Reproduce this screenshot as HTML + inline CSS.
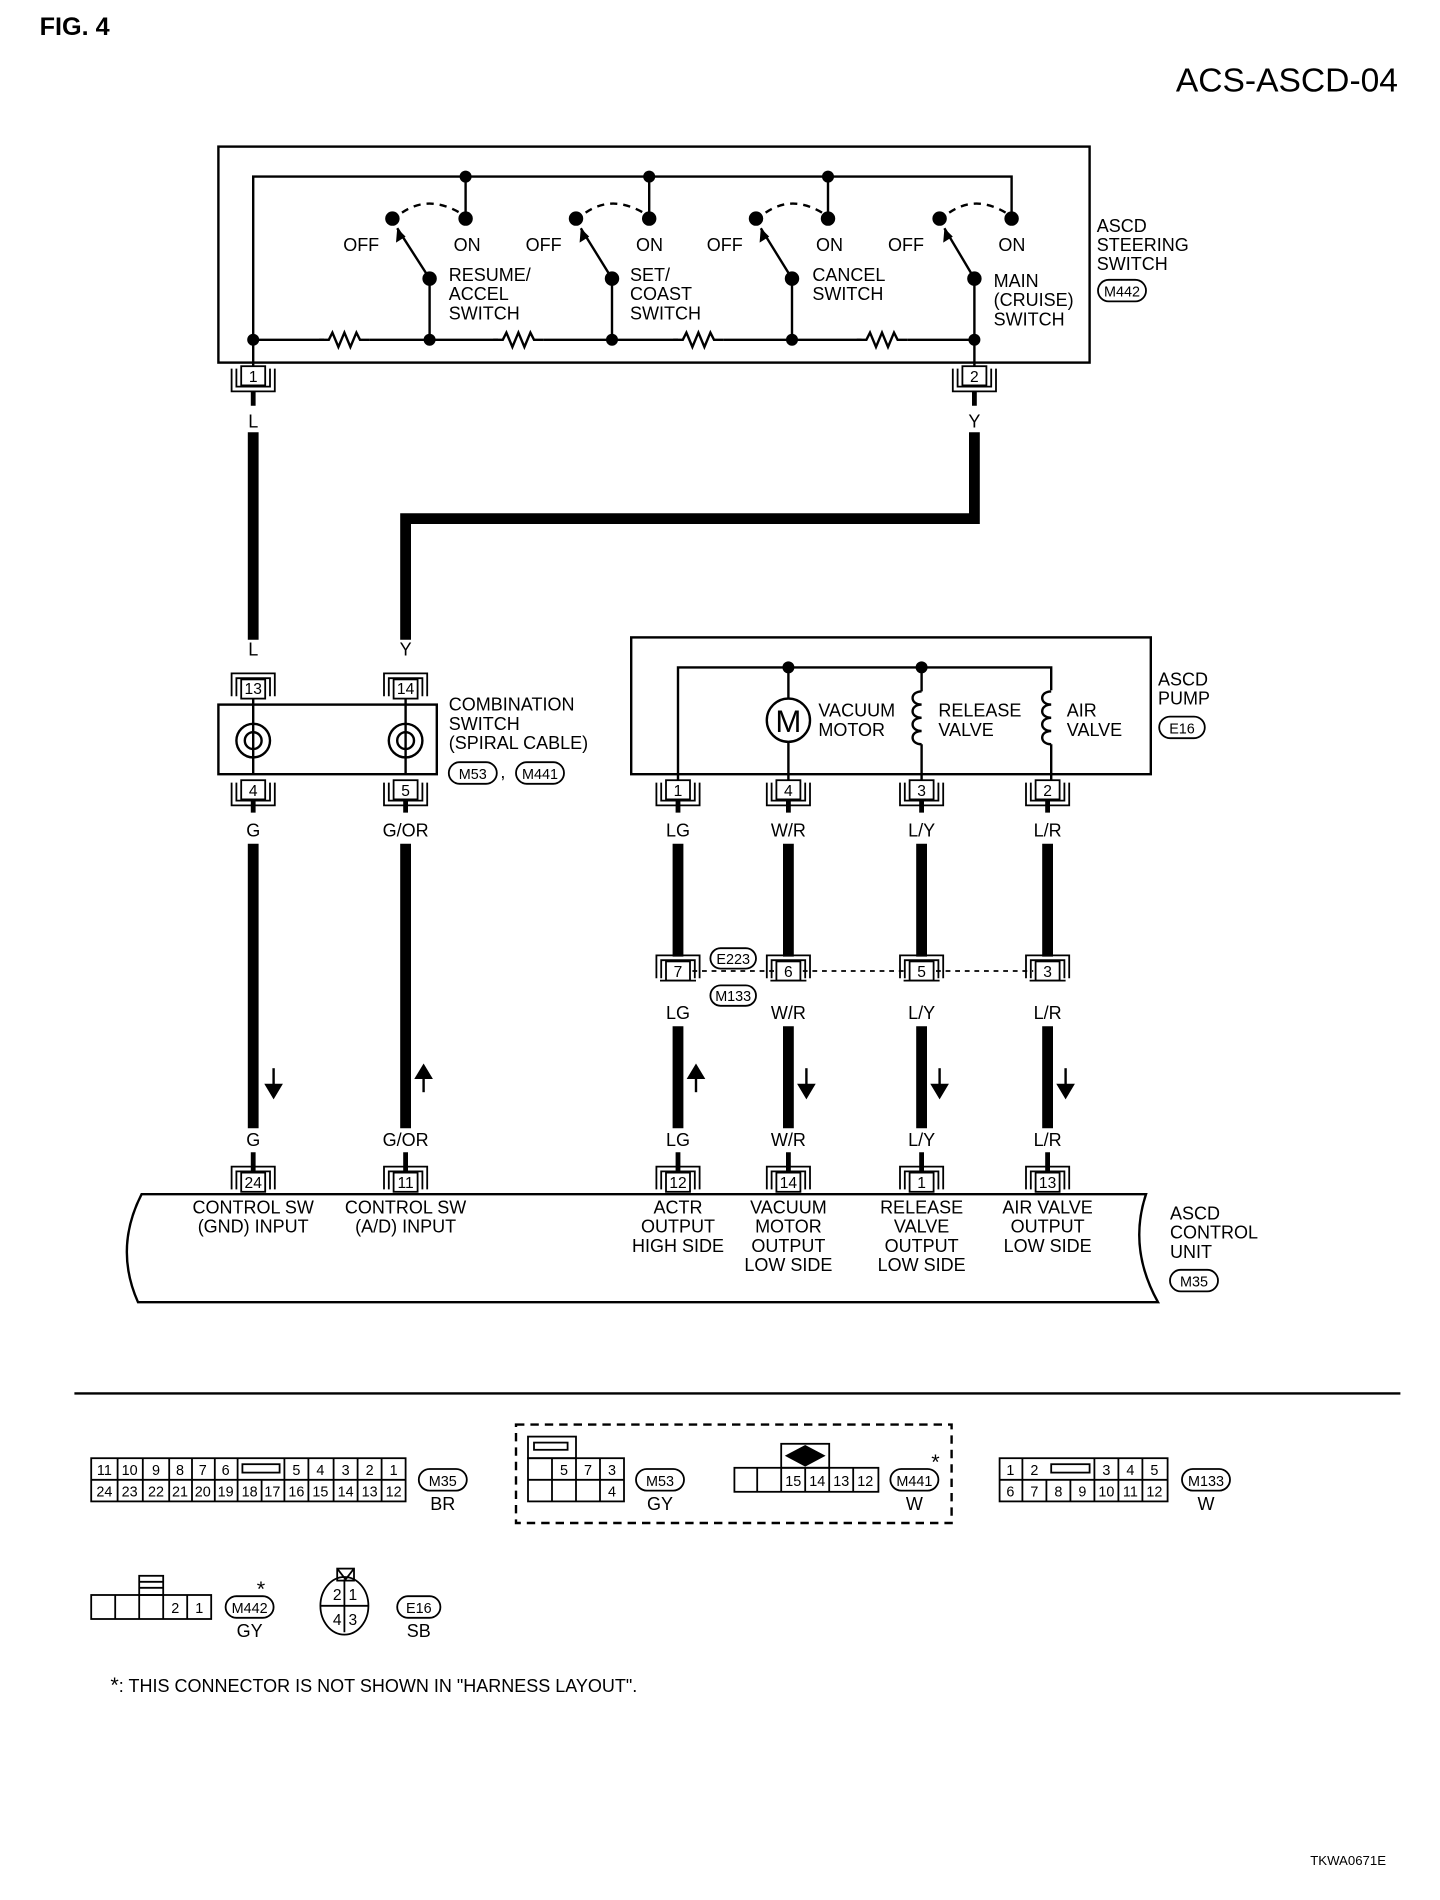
<!DOCTYPE html>
<html><head><meta charset="utf-8"><style>
html,body{margin:0;padding:0;background:#fff;}
svg{display:block;}
text{font-family:"Liberation Sans",Arial,sans-serif;fill:#000;}
.l{font-size:15px;}
.n{font-size:13px;text-anchor:middle;}
.c{text-anchor:middle;}
</style></head><body>
<svg width="1440" height="1900" viewBox="0 0 1200 1583" xmlns="http://www.w3.org/2000/svg">
<defs>
<g id="cn"><rect x="-10" y="0" width="20" height="16" fill="#fff" stroke="#000" stroke-width="1.5"/><path d="M-18 2V21H18V2M-14 2V17H14V2" fill="none" stroke="#000" stroke-width="1.5"/></g>
<g id="cu"><rect x="-10" y="0" width="20" height="16" fill="#fff" stroke="#000" stroke-width="1.5"/><path d="M-18 14V-5H18V14M-14 14V-1H14V14" fill="none" stroke="#000" stroke-width="1.5"/></g>
<path id="res" d="M0 0h8l3 -6 5 12 5 -12 5 12 5 -12 3 6h8"/>
</defs>
<text x="33" y="29" style="font-size:21px;font-weight:bold">FIG. 4</text>
<text x="1165" y="76" style="font-size:28px;text-anchor:end">ACS-ASCD-04</text>

<!-- steering switch -->
<rect x="182" y="122" width="726" height="180" fill="none" stroke="#000" stroke-width="2"/>
<g stroke="#000" stroke-width="2" fill="none">
<path d="M211 305V147H843V182"/>
<path d="M211 283H270M308 283H415M453 283H565M603 283H718M756 283H812V305"/>
<use href="#res" x="266" y="283"/><use href="#res" x="411" y="283"/><use href="#res" x="561" y="283"/><use href="#res" x="714" y="283"/>
<path d="M388 147V182M541 147V182M690 147V182"/>
<path d="M358 232V283M510 232V283M660 232V283M812 232V283"/>
<path d="M358 232L331 190M510 232L484 190M660 232L634 190M812 232L787 190"/>
<path stroke-dasharray="6 5" d="M335 177Q357 162 383 177M488 177Q510 162 536 177M638 177Q660 162 685 177M791 177Q813 162 838 177"/>
</g>
<g fill="#000">
<circle cx="211" cy="283" r="5"/><circle cx="358" cy="283" r="5"/><circle cx="510" cy="283" r="5"/><circle cx="660" cy="283" r="5"/><circle cx="812" cy="283" r="5"/>
<circle cx="388" cy="147" r="5"/><circle cx="541" cy="147" r="5"/><circle cx="690" cy="147" r="5"/>
<circle cx="358" cy="232" r="6"/><circle cx="510" cy="232" r="6"/><circle cx="660" cy="232" r="6"/><circle cx="812" cy="232" r="6"/>
<circle cx="327" cy="182" r="6"/><circle cx="480" cy="182" r="6"/><circle cx="630" cy="182" r="6"/><circle cx="783" cy="182" r="6"/>
<circle cx="388" cy="182" r="6"/><circle cx="541" cy="182" r="6"/><circle cx="690" cy="182" r="6"/><circle cx="843" cy="182" r="6"/>
<path d="M331 190l-1 12 8-5zM484 190l-1 12 8-5zM634 190l-1 12 8-5zM787 190l-1 12 8-5z"/>
</g>
<g class="l">
<text x="286" y="209">OFF</text><text x="378" y="209">ON</text>
<text x="438" y="209">OFF</text><text x="530" y="209">ON</text>
<text x="589" y="209">OFF</text><text x="680" y="209">ON</text>
<text x="740" y="209">OFF</text><text x="832" y="209">ON</text>
<text x="374" y="234">RESUME/</text><text x="374" y="250">ACCEL</text><text x="374" y="266">SWITCH</text>
<text x="525" y="234">SET/</text><text x="525" y="250">COAST</text><text x="525" y="266">SWITCH</text>
<text x="677" y="234">CANCEL</text><text x="677" y="250">SWITCH</text>
<text x="828" y="239">MAIN</text><text x="828" y="255">(CRUISE)</text><text x="828" y="271">SWITCH</text>
<text x="914" y="193">ASCD</text><text x="914" y="209">STEERING</text><text x="914" y="225">SWITCH</text>
</g>
<rect x="915" y="233" width="40" height="18" rx="9" fill="none" stroke="#000" stroke-width="1.5"/><text x="935" y="247" class="n" style="font-size:12px">M442</text>

<use href="#cn" x="211" y="305"/><text x="211" y="318" class="n">1</text>
<use href="#cn" x="812" y="305"/><text x="812" y="318" class="n">2</text>

<!-- wires -->
<g stroke="#000" stroke-width="9" fill="none">
<path d="M211 360V533"/>
<path d="M812 360V432H338V533"/>
<path d="M211 703V940M338 703V940"/>
<path d="M565 703V797M657 703V797M768 703V797M873 703V797"/>
<path d="M565 855V940M657 855V940M768 855V940M873 855V940"/>
</g>
<g stroke="#000" stroke-width="4"><path d="M211 326V338M812 326V338M211 660V677M338 660V677M565 660V677M657 660V677M768 660V677M873 660V677"/></g>
<g class="l c">
<text x="211" y="356">L</text><text x="812" y="356">Y</text>
<text x="211" y="546">L</text><text x="338" y="546">Y</text>
<text x="211" y="697">G</text><text x="338" y="697">G/OR</text>
<text x="565" y="697">LG</text><text x="657" y="697">W/R</text><text x="768" y="697">L/Y</text><text x="873" y="697">L/R</text>
<text x="565" y="849">LG</text><text x="657" y="849">W/R</text><text x="768" y="849">L/Y</text><text x="873" y="849">L/R</text>
<text x="211" y="955">G</text><text x="338" y="955">G/OR</text>
<text x="565" y="955">LG</text><text x="657" y="955">W/R</text><text x="768" y="955">L/Y</text><text x="873" y="955">L/R</text>
</g>

<!-- combination switch -->
<use href="#cu" x="211" y="566"/><text x="211" y="578" class="n">13</text>
<use href="#cu" x="338" y="566"/><text x="338" y="578" class="n">14</text>
<rect x="182" y="587" width="182" height="58" fill="#fff" stroke="#000" stroke-width="2"/>
<g fill="none" stroke="#000" stroke-width="2">
<path d="M211 582V645M338 582V645"/>
<circle cx="211" cy="617" r="14"/><circle cx="211" cy="617" r="7"/>
<circle cx="338" cy="617" r="14"/><circle cx="338" cy="617" r="7"/>
</g>
<use href="#cn" x="211" y="650"/><text x="211" y="663" class="n">4</text>
<use href="#cn" x="338" y="650"/><text x="338" y="663" class="n">5</text>
<g class="l"><text x="374" y="592">COMBINATION</text><text x="374" y="608">SWITCH</text><text x="374" y="624">(SPIRAL CABLE)</text><text x="417" y="648">,</text></g>
<rect x="374" y="635" width="40" height="18" rx="9" fill="none" stroke="#000" stroke-width="1.5"/><text x="394" y="649" class="n" style="font-size:12px">M53</text>
<rect x="430" y="635" width="40" height="18" rx="9" fill="none" stroke="#000" stroke-width="1.5"/><text x="450" y="649" class="n" style="font-size:12px">M441</text>

<!-- pump -->
<rect x="526" y="531" width="433" height="114" fill="none" stroke="#000" stroke-width="2"/>
<g fill="none" stroke="#000" stroke-width="2">
<path d="M565 650V556H876V575M657 556V582M657 618V650M768 556V576M768 620V650M876 620V650"/>
<circle cx="657" cy="600" r="18"/>
<path d="M768 576c-10 0-10 11 0 11c-10 0-10 11 0 11c-10 0-10 11 0 11c-10 0-10 11 0 11"/>
<path d="M876 576c-10 0-10 11 0 11c-10 0-10 11 0 11c-10 0-10 11 0 11c-10 0-10 11 0 11"/>
</g>
<text x="657" y="610" class="c" style="font-size:26px">M</text>
<circle cx="657" cy="556" r="5"/><circle cx="768" cy="556" r="5"/>
<g class="l"><text x="682" y="597">VACUUM</text><text x="682" y="613">MOTOR</text>
<text x="782" y="597">RELEASE</text><text x="782" y="613">VALVE</text>
<text x="889" y="597">AIR</text><text x="889" y="613">VALVE</text>
<text x="965" y="571">ASCD</text><text x="965" y="587">PUMP</text></g>
<rect x="966" y="597" width="38" height="18" rx="9" fill="none" stroke="#000" stroke-width="1.5"/><text x="985" y="611" class="n" style="font-size:12px">E16</text>
<use href="#cn" x="565" y="650"/><text x="565" y="663" class="n">1</text>
<use href="#cn" x="657" y="650"/><text x="657" y="663" class="n">4</text>
<use href="#cn" x="768" y="650"/><text x="768" y="663" class="n">3</text>
<use href="#cn" x="873" y="650"/><text x="873" y="663" class="n">2</text>

<!-- mid connectors -->
<path d="M577 809H645M669 809H756M780 809H861" stroke="#000" stroke-width="1.5" stroke-dasharray="4 4"/>
<g>
<use href="#cu" x="565" y="801"/><text x="565" y="814" class="n">7</text>
<use href="#cu" x="657" y="801"/><text x="657" y="814" class="n">6</text>
<use href="#cu" x="768" y="801"/><text x="768" y="814" class="n">5</text>
<use href="#cu" x="873" y="801"/><text x="873" y="814" class="n">3</text>
<path d="M550 817H580M642 817H672M753 817H783M858 817H888" stroke="#000" stroke-width="1.5"/>
</g>
<rect x="592" y="790" width="38" height="17" rx="8.5" fill="#fff" stroke="#000" stroke-width="1.5"/><text x="611" y="803" class="n" style="font-size:12px">E223</text>
<rect x="592" y="821" width="38" height="17" rx="8.5" fill="#fff" stroke="#000" stroke-width="1.5"/><text x="611" y="834" class="n" style="font-size:12px">M133</text>

<!-- arrows -->
<g fill="#000" stroke="#000" stroke-width="2">
<path d="M228 890V906" /><path d="M222 904l6 10 6-10z"/>
<path d="M353 910V896"/><path d="M347 898l6-10 6 10z"/>
<path d="M580 910V896"/><path d="M574 898l6-10 6 10z"/>
<path d="M672 890V906"/><path d="M666 904l6 10 6-10z"/>
<path d="M783 890V906"/><path d="M777 904l6 10 6-10z"/>
<path d="M888 890V906"/><path d="M882 904l6 10 6-10z"/>
</g>

<!-- control unit -->
<g stroke="#000" stroke-width="4"><path d="M211 960V976M338 960V976M565 960V976M657 960V976M768 960V976M873 960V976"/></g>
<use href="#cu" x="211" y="977"/><text x="211" y="990" class="n">24</text>
<use href="#cu" x="338" y="977"/><text x="338" y="990" class="n">11</text>
<use href="#cu" x="565" y="977"/><text x="565" y="990" class="n">12</text>
<use href="#cu" x="657" y="977"/><text x="657" y="990" class="n">14</text>
<use href="#cu" x="768" y="977"/><text x="768" y="990" class="n">1</text>
<use href="#cu" x="873" y="977"/><text x="873" y="990" class="n">13</text>
<path d="M118 995H955Q940 1040 965 1085H115Q95 1040 118 995Z" fill="none" stroke="#000" stroke-width="2"/>
<g class="l c">
<text x="211" y="1011">CONTROL SW</text><text x="211" y="1027">(GND) INPUT</text>
<text x="338" y="1011">CONTROL SW</text><text x="338" y="1027">(A/D) INPUT</text>
<text x="565" y="1011">ACTR</text><text x="565" y="1027">OUTPUT</text><text x="565" y="1043">HIGH SIDE</text>
<text x="657" y="1011">VACUUM</text><text x="657" y="1027">MOTOR</text><text x="657" y="1043">OUTPUT</text><text x="657" y="1059">LOW SIDE</text>
<text x="768" y="1011">RELEASE</text><text x="768" y="1027">VALVE</text><text x="768" y="1043">OUTPUT</text><text x="768" y="1059">LOW SIDE</text>
<text x="873" y="1011">AIR VALVE</text><text x="873" y="1027">OUTPUT</text><text x="873" y="1043">LOW SIDE</text>
</g>
<g class="l"><text x="975" y="1016">ASCD</text><text x="975" y="1032">CONTROL</text><text x="975" y="1048">UNIT</text></g>
<rect x="975" y="1058" width="40" height="18" rx="9" fill="none" stroke="#000" stroke-width="1.5"/><text x="995" y="1072" class="n" style="font-size:12px">M35</text>

<line x1="62" y1="1161" x2="1167" y2="1161" stroke="#000" stroke-width="2"/>

<!-- M35 connector -->
<g stroke="#000" stroke-width="1.5" fill="none">
<rect x="76" y="1215" width="262" height="36"/><line x1="76" y1="1233" x2="338" y2="1233"/>
<path d="M98 1215V1251M119 1215V1251M141 1215V1251M160 1215V1251M179 1215V1251M198 1215V1251M218 1233V1251M237 1215V1251M257 1215V1251M278 1215V1251M298 1215V1251M318 1215V1251"/>
<rect x="202" y="1220" width="31" height="7"/>
</g>
<g class="n" style="font-size:12px">
<text x="87" y="1229">11</text><text x="108" y="1229">10</text><text x="130" y="1229">9</text><text x="150" y="1229">8</text><text x="169" y="1229">7</text><text x="188" y="1229">6</text>
<text x="247" y="1229">5</text><text x="267" y="1229">4</text><text x="288" y="1229">3</text><text x="308" y="1229">2</text><text x="328" y="1229">1</text>
<text x="87" y="1247">24</text><text x="108" y="1247">23</text><text x="130" y="1247">22</text><text x="150" y="1247">21</text><text x="169" y="1247">20</text><text x="188" y="1247">19</text><text x="208" y="1247">18</text><text x="227" y="1247">17</text><text x="247" y="1247">16</text><text x="267" y="1247">15</text><text x="288" y="1247">14</text><text x="308" y="1247">13</text><text x="328" y="1247">12</text>
</g>
<rect x="349" y="1224" width="40" height="18" rx="9" fill="none" stroke="#000" stroke-width="1.5"/><text x="369" y="1238" class="n" style="font-size:12px">M35</text>
<text x="369" y="1258" class="l c">BR</text>

<!-- dashed group -->
<rect x="430" y="1187" width="363" height="82" fill="none" stroke="#000" stroke-width="2" stroke-dasharray="7 5"/>
<g stroke="#000" stroke-width="1.5" fill="none">
<rect x="440" y="1197" width="40" height="18"/><rect x="445" y="1202" width="28" height="6"/>
<rect x="440" y="1215" width="80" height="36"/><line x1="440" y1="1233" x2="520" y2="1233"/>
<path d="M460 1215V1251M480 1215V1251M500 1215V1251"/>
<rect x="612" y="1223" width="120" height="20"/>
<path d="M631 1223V1243M651 1223V1243M671 1223V1243M691 1223V1243M711 1223V1243"/>
<rect x="651" y="1203" width="40" height="20"/>
</g>
<path d="M671 1204L688 1213L671 1222L654 1213Z" fill="#000"/>
<g class="n" style="font-size:12px"><text x="470" y="1229">5</text><text x="490" y="1229">7</text><text x="510" y="1229">3</text><text x="510" y="1247">4</text>
<text x="661" y="1238">15</text><text x="681" y="1238">14</text><text x="701" y="1238">13</text><text x="721" y="1238">12</text></g>
<rect x="530" y="1224" width="40" height="18" rx="9" fill="none" stroke="#000" stroke-width="1.5"/><text x="550" y="1238" class="n" style="font-size:12px">M53</text>
<text x="550" y="1258" class="l c">GY</text>
<rect x="742" y="1224" width="40" height="18" rx="9" fill="none" stroke="#000" stroke-width="1.5"/><text x="762" y="1238" class="n" style="font-size:12px">M441</text>
<text x="762" y="1258" class="l c">W</text><text x="776" y="1224" style="font-size:18px">*</text>

<!-- M133 -->
<g stroke="#000" stroke-width="1.5" fill="none">
<rect x="833" y="1215" width="140" height="36"/><line x1="833" y1="1233" x2="973" y2="1233"/>
<path d="M852 1215V1251M872 1233V1251M892 1233V1251M912 1215V1251M932 1215V1251M952 1215V1251"/>
<rect x="876" y="1220" width="32" height="7"/>
</g>
<g class="n" style="font-size:12px"><text x="842" y="1229">1</text><text x="862" y="1229">2</text><text x="922" y="1229">3</text><text x="942" y="1229">4</text><text x="962" y="1229">5</text>
<text x="842" y="1247">6</text><text x="862" y="1247">7</text><text x="882" y="1247">8</text><text x="902" y="1247">9</text><text x="922" y="1247">10</text><text x="942" y="1247">11</text><text x="962" y="1247">12</text></g>
<rect x="985" y="1224" width="40" height="18" rx="9" fill="none" stroke="#000" stroke-width="1.5"/><text x="1005" y="1238" class="n" style="font-size:12px">M133</text>
<text x="1005" y="1258" class="l c">W</text>

<!-- M442 -->
<g stroke="#000" stroke-width="1.5" fill="none">
<rect x="76" y="1329" width="100" height="20"/>
<path d="M96 1329V1349M116 1329V1349M136 1329V1349M156 1329V1349"/>
<rect x="116" y="1313" width="20" height="16"/><path d="M116 1318H136M116 1323H136"/>
</g>
<g class="n" style="font-size:12px"><text x="146" y="1344">2</text><text x="166" y="1344">1</text></g>
<rect x="188" y="1330" width="40" height="18" rx="9" fill="none" stroke="#000" stroke-width="1.5"/><text x="208" y="1344" class="n" style="font-size:12px">M442</text>
<text x="208" y="1364" class="l c">GY</text><text x="214" y="1330" style="font-size:18px">*</text>

<!-- E16 -->
<g stroke="#000" stroke-width="1.5" fill="none">
<ellipse cx="287" cy="1338" rx="20" ry="24"/><path d="M267 1338H307M287 1316V1360"/>
<rect x="281" y="1307" width="14" height="10"/><path d="M281 1307L288 1316L295 1307"/>
</g>
<g class="n" style="font-size:13px"><text x="281" y="1333">2</text><text x="294" y="1333">1</text><text x="281" y="1354">4</text><text x="294" y="1354">3</text></g>
<rect x="331" y="1330" width="36" height="18" rx="9" fill="none" stroke="#000" stroke-width="1.5"/><text x="349" y="1344" class="n" style="font-size:12px">E16</text>
<text x="349" y="1364" class="l c">SB</text>

<text x="92" y="1410" class="l"><tspan style="font-size:18px">*</tspan>: THIS CONNECTOR IS NOT SHOWN IN "HARNESS LAYOUT".</text>
<text x="1155" y="1554" style="font-size:11px;text-anchor:end">TKWA0671E</text>
</svg>
</body></html>
